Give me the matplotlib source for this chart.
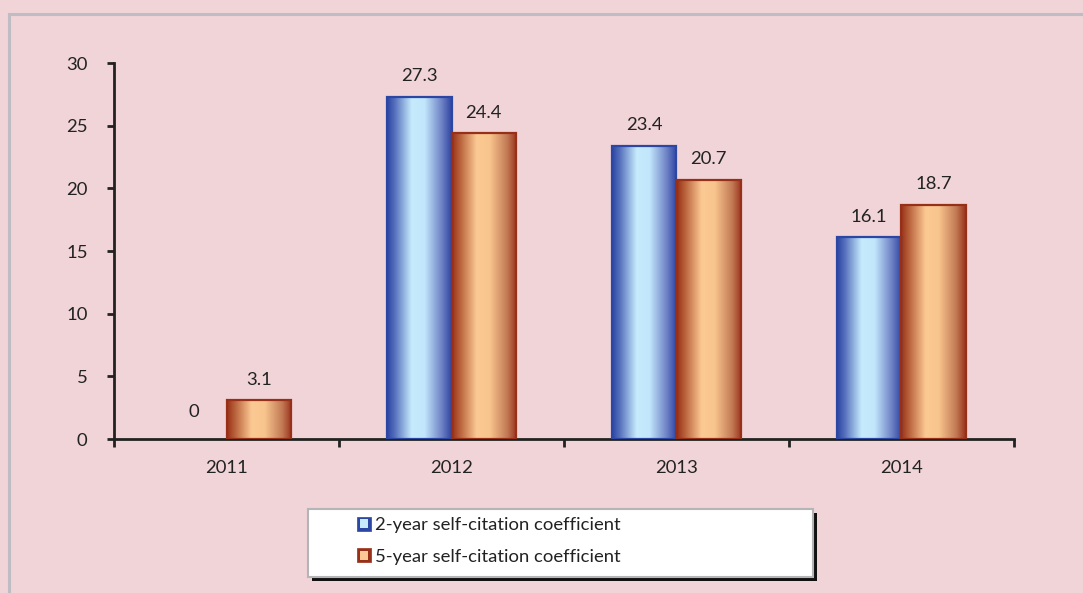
import matplotlib.pyplot as plt
import numpy as np
from matplotlib.colors import LinearSegmentedColormap
from matplotlib.patches import Rectangle
from matplotlib.legend_handler import HandlerBase

plt.rcParams['font.family'] = ['Lato', 'DejaVu Sans']

years = ["2011", "2012", "2013", "2014"]
two_year = [0, 27.3, 23.4, 16.1]
five_year = [3.1, 24.4, 20.7, 18.7]
series_names = ["2-year self-citation coefficient", "5-year self-citation coefficient"]

BG = "#f0d4d7"
FS = 13.3

# horizontal shading across each bar (dark edges, light middle)
blue_cmap = LinearSegmentedColormap.from_list("blue_bar", [
    (0.0, "#2b45a3"), (0.12, "#5670bd"), (0.38, "#c6ebfc"),
    (0.58, "#c2e6fb"), (0.85, "#6c80c4"), (1.0, "#2e44a2")])
orange_cmap = LinearSegmentedColormap.from_list("orange_bar", [
    (0.0, "#9a3119"), (0.12, "#b8613a"), (0.38, "#fbc993"),
    (0.58, "#f9c58e"), (0.85, "#c27a55"), (1.0, "#9b321c")])
edge_colors = ["#2c46a4", "#973019"]
cmaps = [blue_cmap, orange_cmap]

fig = plt.figure(figsize=(10.83, 5.93), dpi=100, facecolor=BG)

# outer chart frame
fig.patches.append(Rectangle((9 / 1083, -0.1), 1.2, 1 - 14 / 593 + 0.1,
                             transform=fig.transFigure, fill=False,
                             edgecolor="#bfbcc4", linewidth=2.2, zorder=0))

ax = fig.add_axes([114 / 1083, 1 - 439 / 593, 900 / 1083, 376 / 593])
ax.set_facecolor("none")

x = np.arange(len(years))
width = 0.287
grad = np.linspace(0, 1, 256).reshape(1, -1)

for i, (vals, cmap, ec) in enumerate(zip([two_year, five_year], cmaps, edge_colors)):
    pos = x + (i - 0.5) * width
    bars = ax.bar(pos, vals, width=width, facecolor="none", edgecolor=ec,
                  linewidth=1.6, zorder=3)
    for bar, v in zip(bars, vals):
        if v > 0:
            im = ax.imshow(grad, cmap=cmap, aspect="auto", zorder=2,
                           extent=[bar.get_x(), bar.get_x() + bar.get_width(), 0, v])
            im.set_clip_path(bar)
        else:
            bar.set_edgecolor("none")
        ax.annotate(f"{v:g}", (bar.get_x() + bar.get_width() / 2, v),
                    xytext=(0, 9 if v > 0 else 14), textcoords="offset points",
                    ha="center", va="bottom", fontsize=FS, color="#222222")

ax.set_xlim(-0.5, len(years) - 0.5)
ax.set_ylim(0, 30)
ax.set_yticks(range(0, 31, 5))
ax.set_xticks(x)
ax.set_xticklabels(years)
ax.set_xticks(np.arange(-0.5, len(years)), minor=True)
ax.tick_params(axis="x", which="major", length=0, pad=15, labelsize=FS, colors="#222222")
ax.tick_params(axis="x", which="minor", length=6, width=2, color="#222222")
ax.tick_params(axis="y", length=5, width=2, pad=14, labelsize=FS, colors="#222222")
for side in ["top", "right"]:
    ax.spines[side].set_visible(False)
for side in ["left", "bottom"]:
    ax.spines[side].set_linewidth(2)
    ax.spines[side].set_color("#222222")


class GradientSquare(HandlerBase):
    def __init__(self, light, dark):
        super().__init__()
        self.light, self.dark = light, dark

    def create_artists(self, legend, orig_handle, xdescent, ydescent,
                       width, height, fontsize, trans):
        s = height * 1.1
        x0 = -xdescent + width - s
        y0 = -ydescent + (height - s) / 2
        outer = Rectangle((x0, y0), s, s, facecolor=self.dark,
                          edgecolor=self.dark, linewidth=0.5, transform=trans)
        inner = Rectangle((x0 + s * 0.22, y0 + s * 0.18), s * 0.56, s * 0.64,
                          facecolor=self.light, edgecolor="none", transform=trans)
        return [outer, inner]


# legend box with drop shadow
lx0, ly0, lw, lh = 308 / 1083, 1 - 577 / 593, 505 / 1083, 68 / 593
fig.patches.append(Rectangle((lx0 + 4 / 1083, ly0 - 4 / 593), lw, lh,
                             transform=fig.transFigure, facecolor="#111111",
                             edgecolor="none", zorder=1))
fig.patches.append(Rectangle((lx0, ly0), lw, lh, transform=fig.transFigure,
                             facecolor="white", edgecolor="#b5b5b8",
                             linewidth=1.5, zorder=2))

h1 = Rectangle((0, 0), 1, 1)
h2 = Rectangle((0, 0), 1, 1)
leg = fig.legend([h1, h2], series_names,
                 handler_map={h1: GradientSquare("#c6ebfc", "#2c46a4"),
                              h2: GradientSquare("#fbc993", "#973019")},
                 loc="center left", bbox_to_anchor=(348 / 1083, 1 - 541 / 593),
                 frameon=False, fontsize=FS, handlelength=0.85,
                 handletextpad=0.2, labelspacing=0.85, borderaxespad=0)
for t in leg.get_texts():
    t.set_color("#222222")

fig.savefig("out.png", dpi=100, facecolor=BG)
